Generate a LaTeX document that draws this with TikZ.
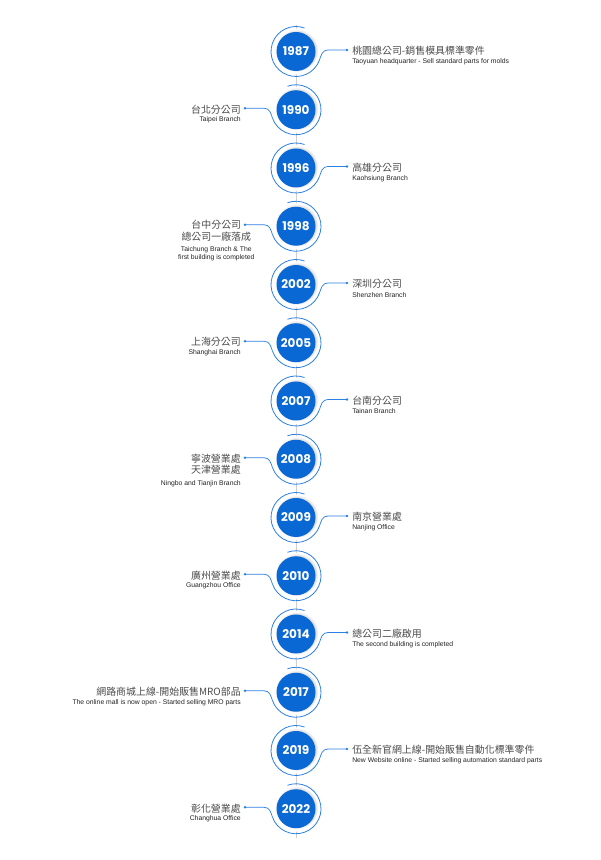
\documentclass[tikz,border=0pt]{standalone}
\usepackage{fontspec}
\setmainfont{Liberation Sans}
\newfontfamily\cjk{Noto Sans CJK TC}
\newfontfamily\yearfont{Poppins}
\usetikzlibrary{calc,shadows}
\definecolor{tlblue}{HTML}{0A68D4}
\definecolor{ringblue}{HTML}{2C80E2}
\definecolor{cntext}{HTML}{4A4A4A}
\definecolor{entext}{HTML}{222222}
\definecolor{vgray}{HTML}{CFCFCF}
\tikzset{
  yearnode/.style={circle, fill=tlblue, minimum size=29.25pt, inner sep=0pt, text=white,
    font=\yearfont\bfseries\fontsize{9}{9}\selectfont,
    circular drop shadow={shadow xshift=0.6pt, shadow yshift=0.7pt, shadow scale=1.1, opacity=0.3}},
  whitering/.style={fill=white},
  ring/.style={draw=ringblue, line width=0.6pt},
  conn/.style={draw=ringblue, line width=0.55pt},
  cnt/.style={inner sep=0pt, text=cntext, font=\cjk\fontsize{7.45}{9}\selectfont},
  ent/.style={inner sep=0pt, text=entext, font=\fontsize{5.1}{6}\selectfont},
  vline/.style={draw=vgray, line width=0.6pt}
}
\newcommand\circleyear[2]{%
  \fill[whitering] (296,#1) circle (23);
  \node[yearnode] (y#2) at (296,#1) {#2};
}
\newcommand\rentry[4]{%
  \circleyear{#1}{#2}
  \coordinate (a#2) at ($(y#2.center)+(-20:25)$);
  \draw[ring] (a#2) arc[start angle=-20, end angle=-290, radius=25];
  \coordinate (h#2) at ($(y#2.center)+(32,1.5)$);
  \coordinate (d#2) at ($(y#2.center)+(51,1.5)$);
  \draw[conn] (a#2) .. controls +(70:5) and +(-6,0) .. (h#2) -- (d#2);
  \fill[ringblue] (d#2) circle (1.3);
  \node[cnt, anchor=west] (c#2) at ($(y#2.center)+(56,0.5)$) {#3};
  \node[ent, anchor=west] (e#2) at ($(y#2.center)+(56,-10.4)$) {#4};
}
\newcommand\lbase[2]{%
  \circleyear{#1}{#2}
  \coordinate (a#2) at ($(y#2.center)+(200:25)$);
  \draw[ring] (a#2) arc[start angle=200, end angle=470, radius=25];
  \coordinate (h#2) at ($(y#2.center)+(-32,1.5)$);
  \coordinate (d#2) at ($(y#2.center)+(-51,1.5)$);
  \draw[conn] (a#2) .. controls +(110:5) and +(6,0) .. (h#2) -- (d#2);
  \fill[ringblue] (d#2) circle (1.3);
}
\newcommand\lentry[4]{%
  \lbase{#1}{#2}
  \node[cnt, anchor=east] (c#2) at ($(y#2.center)+(-55,0.5)$) {#3};
  \node[ent, anchor=east] (e#2) at ($(y#2.center)+(-55,-10.4)$) {#4};
}
\begin{document}
\begin{tikzpicture}[x=0.75pt,y=0.75pt]
\useasboundingbox (0,0) rectangle (600,860);
\coordinate (ltop) at (296,835);
\coordinate (lbot) at (296,22);
\draw[vline] (ltop) -- (lbot);

\rentry{808.5}{1987}{桃園總公司-銷售模具標準零件}{Taoyuan headquarter - Sell standard parts for molds}
\lentry{750.25}{1990}{台北分公司}{Taipei Branch}
\rentry{692}{1996}{高雄分公司}{Kaohsiung Branch}
\lbase{633.75}{1998}
\node[cnt] (c1998) at ($(y1998.center)+(-79.7,1.25)$) {台中分公司};
\node[cnt] (c1998b) at ($(y1998.center)+(-79.7,-10.45)$) {總公司一廠落成};
\node[ent] (e1998) at ($(y1998.center)+(-79.7,-23.75)$) {Taichung Branch \& The};
\node[ent] (e1998b) at ($(y1998.center)+(-79.7,-32)$) {first building is completed};
\rentry{575.5}{2002}{深圳分公司}{Shenzhen Branch}
\lentry{517.25}{2005}{上海分公司}{Shanghai Branch}
\rentry{459}{2007}{台南分公司}{Tainan Branch}
\lbase{400.75}{2008}
\node[cnt, anchor=east] (c2008) at ($(y2008.center)+(-55,0.25)$) {寧波營業處};
\node[cnt, anchor=east] (c2008b) at ($(y2008.center)+(-55,-10.05)$) {天津營業處};
\node[ent, anchor=east] (e2008) at ($(y2008.center)+(-55,-24.05)$) {Ningbo and Tianjin Branch};
\rentry{342.5}{2009}{南京營業處}{Nanjing Office}
\lentry{284.25}{2010}{廣州營業處}{Guangzhou Office}
\rentry{226}{2014}{總公司二廠啟用}{The second building is completed}
\lentry{167.75}{2017}{網路商城上線-開始販售MRO部品}{The online mall is now open - Started selling MRO parts}
\rentry{109.5}{2019}{伍全新官網上線-開始販售自動化標準零件}{New Website online - Started selling automation standard parts}
\lentry{51.25}{2022}{彰化營業處}{Changhua Office}
\end{tikzpicture}
\end{document}
